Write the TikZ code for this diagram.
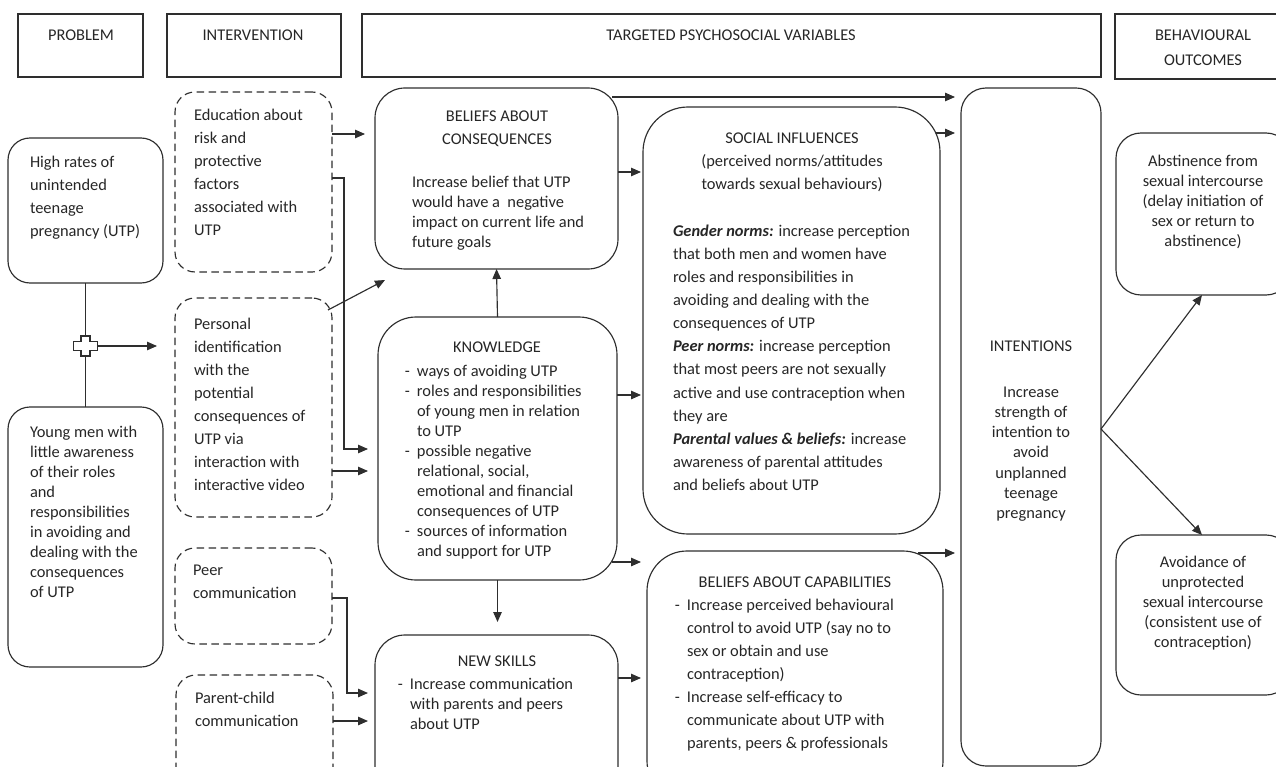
\documentclass[tikz,border=0pt]{standalone}
\usepackage{fontspec}
\setmainfont{Carlito}
\usetikzlibrary{arrows.meta,calc}
\definecolor{linec}{HTML}{2E2E2E}
\definecolor{textc}{HTML}{262626}
\newcommand{\tb}[3][20]{\parbox[t]{#2}{\fontsize{16.4}{#1}\selectfont\raggedright #3}}
\newcommand{\ctb}[3][20]{\parbox[t]{#2}{\fontsize{16.4}{#1}\selectfont\centering #3}}
\newcommand{\itm}{\leavevmode\llap{-\hspace{7pt}}}
\newcommand{\bi}[1]{\textbf{\textit{#1}}}
\tikzset{
  rbox/.style={draw=linec, line width=1.15pt, rounded corners=#1, anchor=north west, inner sep=0pt, outer sep=0pt},
  dbox/.style={rbox=#1, dash pattern=on 7.5pt off 4.5pt},
  hbox/.style={draw=linec, line width=1.15pt, anchor=north west, inner sep=0pt, outer sep=0pt},
  txt/.style={anchor=base west, inner sep=0pt, outer sep=0pt, text=textc},
  ctxt/.style={anchor=base, inner sep=0pt, outer sep=0pt, text=textc},
  arr/.style={draw=linec, line width=1.15pt, -{Triangle[length=10pt,width=8.5pt]}},
  ln/.style={draw=linec, line width=1.15pt}
}
\begin{document}
\begin{tikzpicture}[x=1pt,y=-1pt]
\useasboundingbox (0,0) rectangle (1276,767);
% headers
\node[hbox, minimum width=125pt, minimum height=63pt] (hP) at (18,14) {};
\node[hbox, minimum width=174pt, minimum height=63pt] (hI) at (167,14) {};
\node[hbox, minimum width=739pt, minimum height=63pt] (hT) at (362,14) {};
\node[hbox, minimum width=175pt, minimum height=65pt] (hB) at (1115,14) {};
\node[ctxt] (thP) at (81,41) {\ctb{120pt}{PROBLEM}};
\node[ctxt] (thI) at (253,41) {\ctb{160pt}{INTERVENTION}};
\node[ctxt] (thT) at (731,41) {\ctb{400pt}{TARGETED PSYCHOSOCIAL VARIABLES}};
\node[ctxt] (thB) at (1203,41) {\ctb[25]{160pt}{BEHAVIOURAL\\OUTCOMES}};
% problem
\node[rbox=22pt, minimum width=155pt, minimum height=145pt] (hr) at (8,138) {};
\node[rbox=22pt, minimum width=155pt, minimum height=260pt] (ym) at (8,407) {};
\node[txt] (thr) at (30,168) {\tb[23]{130pt}{High rates of\\unintended\\teenage\\pregnancy (UTP)}};
\node[txt] (tym) at (30,437) {\tb{130pt}{Young men with\\little awareness\\of their roles\\and\\responsibilities\\in avoiding and\\dealing with the\\consequences\\of UTP}};
\draw[ln] (hr.south) -- (ym.north);
\coordinate (cr) at (hr.south |- 0,346);
\draw[ln, fill=white] ($(cr)+(-4.5,-10)$) -- ++(9,0) -- ++(0,5.5) -- ++(7.5,0) -- ++(0,9) -- ++(-7.5,0) -- ++(0,5.5) -- ++(-9,0) -- ++(0,-5.5) -- ++(-7.5,0) -- ++(0,-9) -- ++(7.5,0) -- cycle;
% intervention
\node[dbox=20pt, minimum width=157pt, minimum height=180pt] (ed) at (175,92) {};
\node[dbox=20pt, minimum width=157pt, minimum height=219pt] (pi) at (175,298) {};
\node[dbox=20pt, minimum width=157pt, minimum height=96pt] (pc) at (175,548) {};
\node[dbox=20pt, minimum width=157pt, minimum height=130pt] (pa) at (176,675) {};
\node[txt] (ted) at (194,121) {\tb[23]{135pt}{Education about\\risk and\\protective\\factors\\associated with\\UTP}};
\node[txt] (tpi) at (194,329) {\tb[23]{135pt}{Personal\\identification\\with the\\potential\\consequences of\\UTP via\\interaction with\\interactive video}};
\node[txt] (tpc) at (193,575) {\tb[23]{135pt}{Peer\\communication}};
\node[txt] (tpa) at (195,703) {\tb[23]{135pt}{Parent-child\\communication}};
\draw[arr, shorten >=18pt] ($(cr)+(12,0)$) -- (pi.west |- cr);
% psychosocial
\node[rbox=30pt, minimum width=243pt, minimum height=181pt] (bc) at (375,88) {};
\node[rbox=38pt, minimum width=239pt, minimum height=263pt] (kn) at (378,317) {};
\node[rbox=30pt, minimum width=243pt, minimum height=170pt] (ns) at (375,635) {};
\node[rbox=45pt, minimum width=297pt, minimum height=427pt] (si) at (643,107) {};
\node[rbox=40pt, minimum width=296pt, minimum height=250pt] (cap) at (647,551) {};
\node[rbox=25pt, minimum width=140pt, minimum height=678pt] (int) at (961,88) {};
\node[rbox=25pt, minimum width=175pt, minimum height=162pt] (ab) at (1116,133) {};
\node[rbox=25pt, minimum width=175pt, minimum height=160pt] (av) at (1116,535) {};
\node[ctxt] (tbc1) at (497,122) {\ctb[23]{230pt}{BELIEFS ABOUT\\CONSEQUENCES}};
\node[txt] (tbc2) at (412,188) {\tb{200pt}{Increase belief that UTP\\would have a\ \ negative\\impact on current life and\\future goals}};
\node[ctxt] (tkn1) at (497,352) {\ctb{230pt}{KNOWLEDGE}};
\node[txt] (tkn2) at (417,376) {\tb{200pt}{\itm ways of avoiding UTP\\\itm roles and responsibilities\\of young men in relation\\to UTP\\\itm possible negative\\relational, social,\\emotional and financial\\consequences of UTP\\\itm sources of information\\and support for UTP}};
\node[ctxt] (tns1) at (497,666) {\ctb{230pt}{NEW SKILLS}};
\node[txt] (tns2) at (410,689) {\tb{200pt}{\itm Increase communication\\with parents and peers\\about UTP}};
\node[ctxt] (tsi1) at (792,144) {\ctb[23]{280pt}{SOCIAL INFLUENCES\\(perceived norms/attitudes\\towards sexual behaviours)}};
\node[txt] (tsi2) at (673,237) {\tb[23]{265pt}{\bi{Gender norms:} increase perception\\that both men and women have\\roles and responsibilities in\\avoiding and dealing with the\\consequences of UTP\\\bi{Peer norms:} increase perception\\that most peers are not sexually\\active and use contraception when\\they are\\\bi{Parental values \& beliefs:} increase\\awareness of parental attitudes\\and beliefs about UTP}};
\node[ctxt] (tcap1) at (795,587) {\ctb{280pt}{BELIEFS ABOUT CAPABILITIES}};
\node[txt] (tcap2) at (687,610) {\tb[23]{250pt}{\itm Increase perceived behavioural\\control to avoid UTP (say no to\\sex or obtain and use\\contraception)\\\itm Increase self-efficacy to\\communicate about UTP with\\parents, peers \& professionals}};
\node[ctxt] (tint1) at (1031,351) {\ctb{130pt}{INTENTIONS}};
\node[ctxt] (tint2) at (1031,397) {\ctb[20.3]{130pt}{Increase\\strength of\\intention to\\avoid\\unplanned\\teenage\\pregnancy}};
\node[ctxt] (tab) at (1203,167) {\ctb{150pt}{Abstinence from\\sexual intercourse\\(delay initiation of\\sex or return to\\abstinence)}};
\node[ctxt] (tav) at (1203,567) {\ctb{150pt}{Avoidance of\\unprotected\\sexual intercourse\\(consistent use of\\contraception)}};
% connectors
\draw[arr, shorten >=10pt] (ed.east |- 0,134) -- (bc.west |- 0,134);
\draw[arr, shorten >=10pt] (ed.east |- 0,178) -- (344,178) -- (344,449) -- (kn.west |- 0,449);
\draw[arr] ($(pi.north east)+(-4,12)$) -- ($(bc.south west)+(10,11)$);
\draw[arr, shorten >=10pt] (pi.east |- 0,471) -- (kn.west |- 0,471);
\draw[arr, shorten >=7pt] (pc.east |- 0,598) -- (347,598) -- (347,693) -- (ns.west |- 0,693);
\draw[arr, shorten >=7pt] (pa.east |- 0,721) -- (ns.west |- 0,721);
\draw[arr] (kn.north) -- (bc.south);
\draw[arr, shorten >=13pt] (kn.south) -- (kn.south |- ns.north);
\draw[arr, shorten >=2pt] (bc.east |- 0,172) -- (si.west |- 0,172);
\draw[arr, shorten >=2pt] (kn.east |- 0,395) -- (si.west |- 0,395);
\draw[arr, shorten >=6pt] ($(kn.east |- 0,562)+(-5,0)$) -- (cap.west |- 0,562);
\draw[arr, shorten >=6pt] (ns.east |- 0,678) -- (cap.west |- 0,678);
\draw[arr, shorten >=6pt] ($(bc.north east)+(-6,9)$) -- (int.west |- 0,97);
\draw[arr, shorten >=6pt] ($(si.north east)+(-4,26)$) -- (int.west |- 0,133);
\draw[arr, shorten >=6pt] ($(cap.north east)+(-25,2)$) -- (int.west |- 0,553);
\draw[arr] (int.east |- 0,429) -- (1202,0 |- ab.south);
\draw[arr] (int.east |- 0,429) -- (1202,0 |- av.north);
\end{tikzpicture}
\end{document}
